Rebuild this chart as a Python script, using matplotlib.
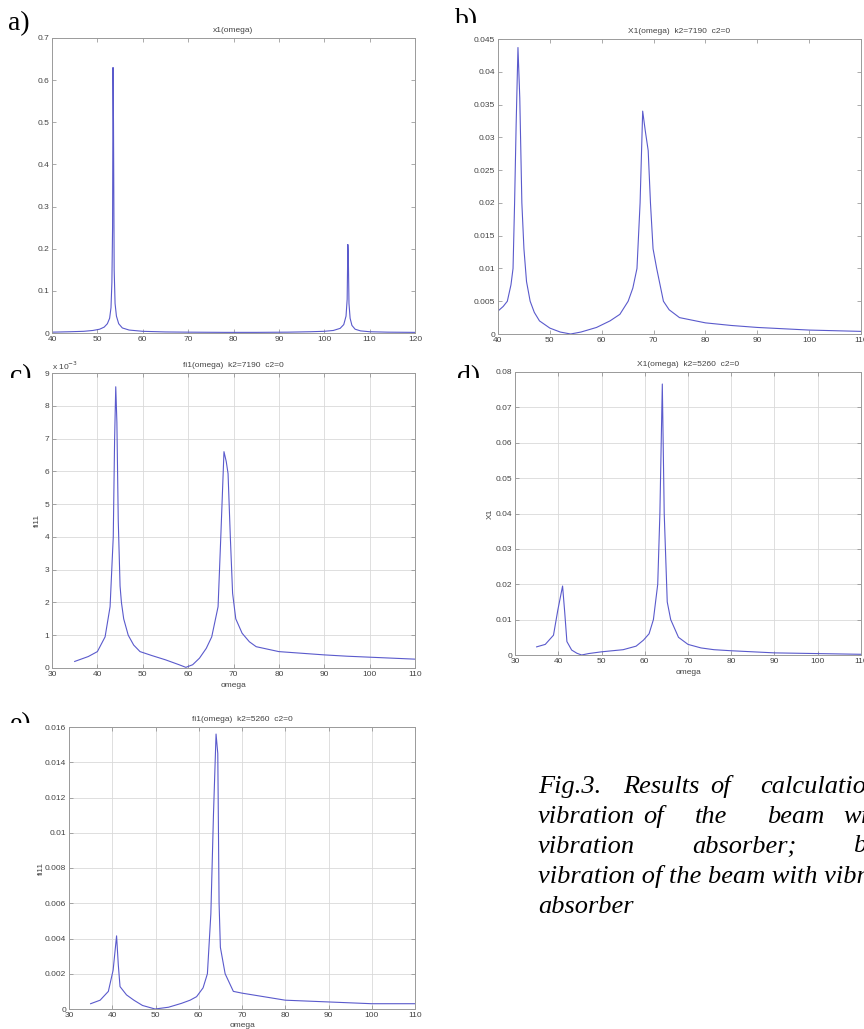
import matplotlib
matplotlib.use("Agg")
import matplotlib.pyplot as plt
from matplotlib.ticker import FuncFormatter, MultipleLocator
from matplotlib.transforms import Bbox, TransformedBbox

# ---------------- data ----------------
a_omega = [40, 44, 47, 49, 50.5, 51.5, 52.2, 52.7, 53.0, 53.2, 53.35, 53.45, 53.55, 53.7, 53.9, 54.2,
           54.7, 55.5, 57, 60, 65, 70, 78, 85, 92, 97, 100, 102, 103.5, 104.3, 104.8, 105.05, 105.2,
           105.3, 105.45, 105.7, 106.1, 106.8, 108, 110, 114, 120]
a_x1 = [0.002, 0.003, 0.004, 0.006, 0.009, 0.014, 0.022, 0.035, 0.06, 0.12, 0.25, 0.63, 0.50, 0.15,
        0.07, 0.04, 0.022, 0.012, 0.007, 0.004, 0.0025, 0.002, 0.0015, 0.0015, 0.002, 0.003, 0.004,
        0.006, 0.011, 0.02, 0.04, 0.08, 0.21, 0.185, 0.07, 0.035, 0.018, 0.009, 0.005, 0.003, 0.002,
        0.0015]

b_omega = [40, 41, 41.8, 42.5, 42.9, 43.2, 43.5, 43.85, 44.2, 44.6, 45.0, 45.5, 46.2, 47, 48, 50, 52,
           54, 56, 59, 61.6, 63.5, 65.1, 66, 66.8, 67.4, 67.9, 68.4, 68.96, 69.4, 69.9, 70.6, 71.9, 73,
           75, 80, 85, 90, 95, 100, 105, 110]
b_X1 = [0.0035, 0.0042, 0.005, 0.0075, 0.01, 0.02, 0.032, 0.0437, 0.036, 0.02, 0.013, 0.008, 0.005,
        0.0033, 0.002, 0.0009, 0.0003, 0.0, 0.0003, 0.001, 0.002, 0.003, 0.005, 0.007, 0.01, 0.02,
        0.034, 0.031, 0.028, 0.02, 0.013, 0.01, 0.005, 0.0037, 0.0025, 0.0017, 0.0013, 0.001, 0.0008,
        0.0006, 0.0005, 0.0004]

c_omega = [35, 38, 40, 41.7, 42.8, 43.5, 43.8, 44.05, 44.3, 44.6, 45.0, 45.3, 45.8, 46.8, 48, 49.4,
           52, 55, 58, 59.5, 61, 62.5, 64, 65.2, 66.6, 67.2, 67.9, 68.4, 68.8, 69.3, 69.8, 70.5, 71.9,
           73.5, 75, 80, 85, 90, 95, 100, 105, 110]
c_fi11 = [0.00020, 0.00035, 0.00050, 0.00095, 0.00187, 0.0040, 0.0070, 0.00858, 0.0075, 0.0045,
          0.0025, 0.0020, 0.0015, 0.0010, 0.0007, 0.0005, 0.00038, 0.00025, 0.0001, 0.00002, 0.0001,
          0.0003, 0.0006, 0.00095, 0.00187, 0.0040, 0.0066, 0.0063, 0.00593, 0.0040, 0.00228, 0.0015,
          0.00106, 0.0008, 0.00065, 0.0005, 0.00045, 0.0004, 0.00036, 0.00033, 0.0003, 0.00027]

d_omega = [35, 37, 38.9, 39.9, 41.0, 41.5, 42.0, 43.1, 44.3, 45.4, 47, 50, 55, 58, 59.7, 61, 62.0,
           63.0, 63.5, 64.06, 64.5, 65.2, 66, 67.8, 70, 73, 76, 80, 85, 90, 95, 100, 105, 110]
d_X1 = [0.0023, 0.003, 0.0056, 0.0127, 0.0195, 0.012, 0.0038, 0.0014, 0.0005, 0.0, 0.0004, 0.0009,
        0.0015, 0.0025, 0.0042, 0.006, 0.01, 0.02, 0.04, 0.0766, 0.04, 0.015, 0.01, 0.005, 0.003,
        0.002, 0.0015, 0.0012, 0.0009, 0.0006, 0.0005, 0.0004, 0.0003, 0.0002]

e_omega = [35, 37.2, 39.1, 40.2, 41.0, 41.4, 41.8, 43.3, 45, 47, 49.9, 53, 56, 58, 59.5, 61, 62.0,
           62.8, 63.4, 64.0, 64.4, 64.7, 65.0, 66.1, 68, 70, 75, 80, 85, 90, 95, 100, 105, 110]
e_fi11 = [0.0003, 0.0005, 0.001, 0.0022, 0.00415, 0.0025, 0.00127, 0.0008, 0.0005, 0.0002, 0.0,
          0.0001, 0.00032, 0.0005, 0.0007, 0.0012, 0.002, 0.0054, 0.011, 0.0156, 0.0145, 0.006,
          0.0035, 0.002, 0.001, 0.0009, 0.0007, 0.0005, 0.00045, 0.0004, 0.00035, 0.0003, 0.0003,
          0.0003]

titles = ["x1(omega)", "X1(omega)  k2=7190  c2=0", "fi1(omega)  k2=7190  c2=0",
          "X1(omega)  k2=5260  c2=0", "fi1(omega)  k2=5260  c2=0"]
panel_letters = ["a)", "b)", "c)", "d)", "e)"]

# ---------------- figure ----------------
W, H = 864, 1029
fig = plt.figure(figsize=(W / 100, H / 100), dpi=100)
fig.patch.set_facecolor("white")

LINE = "#5a5acc"
SPINE = "#9a9a9a"
TXT = "#444444"
SANS = ["Liberation Sans", "DejaVu Sans"]
SERIF = ["Liberation Serif", "DejaVu Serif"]


def px_axes(x0, y0, x1, y1):
    return fig.add_axes([x0 / W, 1 - y1 / H, (x1 - x0) / W, (y1 - y0) / H])


fmt = FuncFormatter(lambda v, p: "%g" % round(v, 6))


def style(ax, xlim, ylim, xstep, ystep, title, grid):
    ax.set_xlim(*xlim)
    ax.set_ylim(*ylim)
    ax.xaxis.set_major_locator(MultipleLocator(xstep))
    ax.yaxis.set_major_locator(MultipleLocator(ystep))
    ax.xaxis.set_major_formatter(fmt)
    ax.yaxis.set_major_formatter(fmt)
    ax.tick_params(direction="in", top=True, right=True, length=3, width=0.5,
                   color="#888888", labelsize=6, labelcolor=TXT, pad=2)
    for lab in ax.get_xticklabels() + ax.get_yticklabels():
        lab.set_family(SANS)
    for s in ax.spines.values():
        s.set_color(SPINE)
        s.set_linewidth(0.7)
    ax.set_title(title, fontsize=6, color=TXT, family=SANS, pad=4)
    if grid:
        ax.grid(True, color="#d9d9d9", linewidth=0.6)
        ax.set_axisbelow(True)


# a
ax_a = px_axes(52, 38, 415, 333)
ax_a.plot(a_omega, a_x1, color=LINE, lw=0.8)
style(ax_a, (40, 120), (0, 0.7), 10, 0.1, titles[0], False)

# b
ax_b = px_axes(498, 39, 861, 334)
ax_b.plot(b_omega, b_X1, color=LINE, lw=0.8)
style(ax_b, (40, 110), (0, 0.045), 10, 0.005, titles[1], False)

# c
ax_c = px_axes(52, 373, 415, 668)
ax_c.plot(c_omega, c_fi11, color=LINE, lw=0.8)
style(ax_c, (30, 110), (0, 0.009), 10, 0.001, titles[2], True)
ax_c.yaxis.set_major_formatter(FuncFormatter(lambda v, p: "%g" % round(v * 1e3, 6)))
for lab in ax_c.get_yticklabels():
    lab.set_family(SANS)
ax_c.text(0.0, 1.005, r"x 10$^{-3}$", transform=ax_c.transAxes, fontsize=6, color=TXT,
          family=SANS, ha="left", va="bottom")
ax_c.set_xlabel("omega", fontsize=6, color=TXT, family=SANS)
ax_c.set_ylabel("fi11", fontsize=6, color=TXT, family=SANS)
ax_c.xaxis.set_label_coords(0.5, -0.047)
ax_c.yaxis.set_label_coords(-0.030, 0.5)

# d
ax_d = px_axes(515, 372, 861, 655)
ax_d.plot(d_omega, d_X1, color=LINE, lw=0.8)
style(ax_d, (30, 110), (0, 0.08), 10, 0.01, titles[3], True)
ax_d.set_xlabel("omega", fontsize=6, color=TXT, family=SANS)
ax_d.set_ylabel("X1", fontsize=6, color=TXT, family=SANS)
ax_d.xaxis.set_label_coords(0.5, -0.049)
ax_d.yaxis.set_label_coords(-0.061, 0.5)

# e
ax_e = px_axes(69, 727, 415, 1009)
ax_e.plot(e_omega, e_fi11, color=LINE, lw=0.8)
style(ax_e, (30, 110), (0, 0.016), 10, 0.002, titles[4], True)
ax_e.set_xlabel("omega", fontsize=6, color=TXT, family=SANS)
ax_e.set_ylabel("fi11", fontsize=6, color=TXT, family=SANS)
ax_e.xaxis.set_label_coords(0.5, -0.046)
ax_e.yaxis.set_label_coords(-0.069, 0.5)

# ---------------- panel letters (partly hidden like the scanned figure) ----------------
letter_pos = [(8, 30, None), (455, 27, 23), (10, 383, 378), (457, 384, 378), (10, 731, 723)]
for (x, yb, clip), s in zip(letter_pos, panel_letters):
    t = fig.text(x / W, 1 - yb / H, s, fontsize=20, family=SERIF, ha="left", va="baseline",
                 color="black")
    if clip is not None:
        bb = TransformedBbox(Bbox.from_extents(0, 1 - clip / H, 1, 1), fig.transFigure)
        t.set_clip_box(bb)
        t.set_clip_on(True)

# ---------------- caption ----------------
caption_lines = [
    [(538, "Fig.3."), (623, "Results"), (710, "of"), (760, "calculations:")],
    [(538, "vibration"), (643, "of"), (695, "the"), (767, "beam"), (843, "without")],
    [(538, "vibration"), (692, "absorber;"), (853, "b),c),d),e)")],
    [(538, "vibration of the beam with vibration")],
    [(538, "absorber")],
]
baselines = [793, 823, 853, 883, 913]
for yb, words in zip(baselines, caption_lines):
    for x, w in words:
        fig.text(x / W, 1 - yb / H, w, fontsize=19, family=SERIF, style="italic",
                 ha="left", va="baseline", color="black")

fig.savefig("out.png", dpi=100, facecolor="white")
